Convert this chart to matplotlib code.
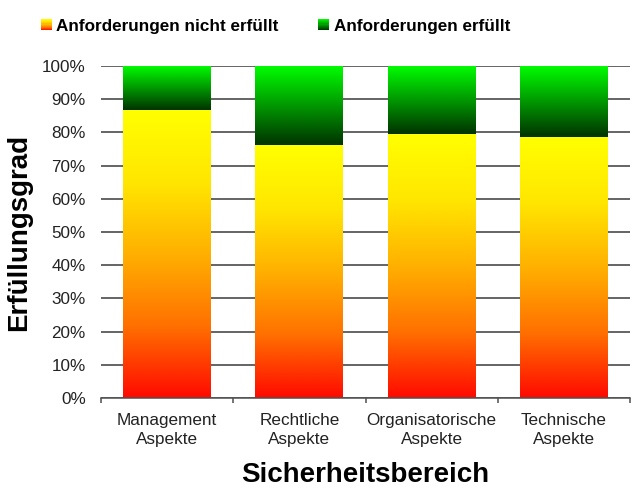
import numpy as np
import matplotlib
matplotlib.use('Agg')
import matplotlib.pyplot as plt
from matplotlib.colors import LinearSegmentedColormap
from matplotlib.legend_handler import HandlerBase
from matplotlib.patches import Rectangle
from matplotlib.ticker import PercentFormatter, FixedLocator

plt.rcParams['font.family'] = ['Liberation Sans', 'DejaVu Sans']

# data (percent)
categories = ['Management\nAspekte', 'Rechtliche\nAspekte',
              'Organisatorische\nAspekte', 'Technische\nAspekte']
nicht_erfuellt = [86.7, 76.1, 79.4, 78.6]
erfuellt = [13.3, 23.9, 20.6, 21.4]
labels = ['Anforderungen nicht erfüllt', 'Anforderungen erfüllt']

# gradients (0 = bottom of segment, 1 = top)
cmap_red = LinearSegmentedColormap.from_list(
    'ry', [(0.0, '#ff0a00'), (0.25, '#ff7000'), (0.5, '#ffb000'),
           (0.75, '#ffe600'), (1.0, '#ffff00')])
cmap_green = LinearSegmentedColormap.from_list(
    'gg', [(0.0, '#003300'), (1.0, '#00ff00')])


class GradientHandler(HandlerBase):
    def __init__(self, cmap, n=10):
        super().__init__()
        self.cmap = cmap
        self.n = n

    def create_artists(self, legend, orig_handle, xdescent, ydescent,
                       width, height, fontsize, trans):
        arts = []
        side = min(width, height)
        x0 = -xdescent + (width - side) / 2
        y0 = -ydescent + (height - side) / 2
        for i in range(self.n):
            r = Rectangle((x0, y0 + side * i / self.n), side, side / self.n,
                          facecolor=self.cmap((i + 0.5) / self.n),
                          edgecolor='none', transform=trans)
            arts.append(r)
        return arts


fig = plt.figure(figsize=(6.32, 4.88), dpi=100)
ax = fig.add_axes([101 / 632, 1 - 398 / 488, 529 / 632, 332 / 488])

x = np.arange(len(categories))
w = 0.665
vals_n = np.array(nicht_erfuellt) / 100
vals_e = np.array(erfuellt) / 100
bars_n = ax.bar(x, vals_n, width=w, color='none', edgecolor='none', zorder=3)
bars_e = ax.bar(x, vals_e, width=w, bottom=vals_n, color='none',
                edgecolor='none', zorder=3)

grad = np.linspace(0, 1, 256).reshape(-1, 1)
for bars, cm in ((bars_n, cmap_red), (bars_e, cmap_green)):
    for p in bars:
        bx, by, bw, bh = p.get_x(), p.get_y(), p.get_width(), p.get_height()
        im = ax.imshow(grad, cmap=cm, origin='lower', aspect='auto',
                       extent=(bx, bx + bw, by, by + bh), zorder=2.5,
                       interpolation='bilinear')
        im.set_clip_path(p)

ax.set_xlim(-0.5, len(categories) - 0.5)
ax.set_ylim(0, 1)
ax.yaxis.set_major_locator(FixedLocator(np.arange(0, 1.01, 0.1)))
ax.yaxis.set_major_formatter(PercentFormatter(1.0, decimals=0))
ax.grid(axis='y', color='#3a3a3a', linewidth=1.1, zorder=0)
ax.set_axisbelow(True)

for s in ('top', 'right', 'left'):
    ax.spines[s].set_visible(False)
ax.spines['bottom'].set_color('#505050')
ax.spines['bottom'].set_linewidth(1.1)

ax.set_xticks(x)
ax.set_xticklabels(categories, fontsize=12.3, color='#222222', linespacing=1.38)
ax.set_xticks(np.arange(-0.5, len(categories), 1.0), minor=True)
ax.tick_params(axis='x', which='major', length=0, pad=10.5)
ax.tick_params(axis='x', which='minor', length=3.5, width=1.1, color='#505050',
               direction='out')
ax.tick_params(axis='y', length=0, pad=11, labelsize=12.3, labelcolor='#222222')

ax.set_xlabel('Sicherheitsbereich', fontsize=20, fontweight='bold', labelpad=11)
ax.set_ylabel('Erfüllungsgrad', fontsize=20, fontweight='bold', labelpad=7)

h1 = Rectangle((0, 0), 1, 1)
h2 = Rectangle((0, 0), 1, 1, facecolor='g')
fig.legend([h1, h2], labels, loc='upper center', ncol=2,
           bbox_to_anchor=(0.436, 0.997), frameon=False,
           prop={'size': 12.35, 'weight': 'bold'},
           handlelength=0.65, handleheight=0.65, handletextpad=0.25,
           columnspacing=2.3, borderaxespad=0.6,
           handler_map={h1: GradientHandler(cmap_red),
                        h2: GradientHandler(cmap_green)})

fig.savefig('out.png', dpi=100)
